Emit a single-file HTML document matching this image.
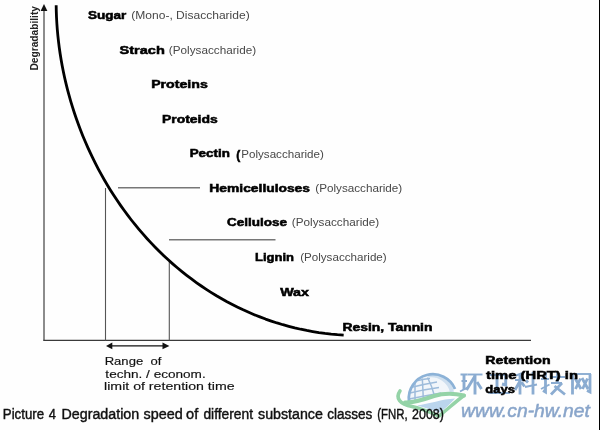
<!DOCTYPE html>
<html><head><meta charset="utf-8"><style>
html,body{margin:0;padding:0;background:#fff;}
body{width:600px;height:430px;overflow:hidden;position:relative;}
svg{position:absolute;left:0;top:0;}
text{font-family:"Liberation Sans", sans-serif;}
</style></head><body>
<svg width="600" height="430" viewBox="0 0 600 430">
<rect width="600" height="430" fill="#fefefe"/>
<!-- axes -->
<line x1="44" y1="10" x2="44" y2="340.5" stroke="#666" stroke-width="1.5"/>
<polygon points="44,3.9 40.6,11 47.4,11" fill="#111"/>
<line x1="43.3" y1="340.4" x2="531" y2="340.4" stroke="#3a3a3a" stroke-width="1.15"/>
<!-- helper lines -->
<line x1="105.5" y1="188" x2="105.5" y2="340.5" stroke="#555" stroke-width="1.1"/>
<line x1="169.3" y1="262" x2="169.3" y2="340.5" stroke="#555" stroke-width="1.1"/>
<line x1="118" y1="187.7" x2="200" y2="187.7" stroke="#777" stroke-width="1.5"/>
<line x1="169" y1="239.8" x2="275.5" y2="239.8" stroke="#777" stroke-width="1.5"/>
<!-- double arrow -->
<line x1="110" y1="345.8" x2="166" y2="345.8" stroke="#111" stroke-width="1.3"/>
<polygon points="106,346 112.3,342.6 112.3,349.3" fill="#111"/>
<polygon points="169.4,346 162.5,342.6 162.5,349.3" fill="#111"/>
<!-- curve -->
<path d="M56.17 5.29 L56.29 11.36 L56.52 17.43 L56.86 23.49 L57.31 29.56 L57.86 35.61 L58.52 41.67 L59.28 47.71 L60.15 53.74 L61.12 59.75 L62.19 65.76 L63.37 71.74 L64.64 77.71 L66.02 83.65 L67.50 89.58 L69.08 95.48 L70.75 101.35 L72.53 107.19 L74.40 113.01 L76.37 118.79 L78.44 124.54 L80.60 130.25 L82.85 135.92 L85.21 141.56 L87.65 147.15 L90.19 152.70 L92.82 158.20 L95.54 163.65 L98.35 169.06 L101.25 174.41 L104.25 179.72 L107.33 184.96 L110.50 190.15 L113.76 195.28 L117.10 200.35 L120.54 205.35 L124.05 210.30 L127.66 215.17 L131.34 219.98 L135.12 224.71 L138.97 229.37 L142.91 233.96 L146.93 238.47 L151.03 242.91 L155.21 247.26 L159.47 251.53 L163.81 255.72 L168.23 259.82 L172.73 263.84 L177.30 267.76 L181.96 271.59 L186.68 275.33 L191.48 278.98 L196.35 282.53 L201.29 285.98 L206.29 289.32 L211.37 292.57 L216.51 295.72 L221.72 298.75 L226.99 301.69 L232.32 304.51 L237.72 307.22 L243.17 309.82 L248.68 312.30 L254.25 314.67 L259.87 316.92 L265.55 319.06 L271.28 321.07 L277.06 322.96 L282.89 324.72 L288.77 326.35 L294.70 327.86 L300.67 329.24 L306.69 330.49 L312.75 331.60 L318.85 332.58 L325.00 333.42 L331.18 334.12 L337.40 334.68 L343.66 335.10" fill="none" stroke="#000" stroke-width="2.8" stroke-linecap="butt" stroke-linejoin="round"/>
<g transform="translate(38,70.5) rotate(-90)"><text x="0" y="0" font-size="10.5" font-weight="bold" fill="#222" textLength="64.5" lengthAdjust="spacingAndGlyphs">Degradability</text></g>
<text x="88.00" y="18.70" font-size="10.50" font-weight="bold" fill="#000" textLength="38.30" lengthAdjust="spacingAndGlyphs" stroke="#000" stroke-width="0.5">Sugar</text>
<text x="131.30" y="19.20" font-size="11.00" font-weight="normal" fill="#484848" textLength="118.40" lengthAdjust="spacingAndGlyphs" >(Mono-, Disaccharide)</text>
<text x="119.58" y="53.50" font-size="10.50" font-weight="bold" fill="#000" textLength="45.28" lengthAdjust="spacingAndGlyphs" stroke="#000" stroke-width="0.5">Strach</text>
<text x="168.84" y="53.60" font-size="11.00" font-weight="normal" fill="#484848" textLength="87.32" lengthAdjust="spacingAndGlyphs" >(Polysaccharide)</text>
<text x="151.15" y="88.00" font-size="10.50" font-weight="bold" fill="#000" textLength="56.70" lengthAdjust="spacingAndGlyphs" stroke="#000" stroke-width="0.5">Proteins</text>
<text x="161.92" y="122.70" font-size="10.50" font-weight="bold" fill="#000" textLength="55.85" lengthAdjust="spacingAndGlyphs" stroke="#000" stroke-width="0.5">Proteids</text>
<text x="189.69" y="157.20" font-size="10.50" font-weight="bold" fill="#000" textLength="40.16" lengthAdjust="spacingAndGlyphs" stroke="#000" stroke-width="0.5">Pectin</text>
<text x="236.15" y="158.60" font-size="12.00" font-weight="bold" fill="#000" textLength="4.00" lengthAdjust="spacingAndGlyphs" stroke="#000" stroke-width="0.5">(</text>
<text x="241.30" y="157.50" font-size="11.00" font-weight="normal" fill="#484848" textLength="82.55" lengthAdjust="spacingAndGlyphs" >Polysaccharide)</text>
<text x="209.38" y="191.80" font-size="10.50" font-weight="bold" fill="#000" textLength="100.62" lengthAdjust="spacingAndGlyphs" stroke="#000" stroke-width="0.5">Hemicelluloses</text>
<text x="315.30" y="191.80" font-size="11.00" font-weight="normal" fill="#484848" textLength="86.94" lengthAdjust="spacingAndGlyphs" >(Polysaccharide)</text>
<text x="227.00" y="225.80" font-size="10.50" font-weight="bold" fill="#000" textLength="60.00" lengthAdjust="spacingAndGlyphs" stroke="#000" stroke-width="0.5">Cellulose</text>
<text x="291.84" y="226.20" font-size="11.00" font-weight="normal" fill="#484848" textLength="87.40" lengthAdjust="spacingAndGlyphs" >(Polysaccharide)</text>
<text x="255.00" y="260.50" font-size="10.50" font-weight="bold" fill="#000" textLength="39.00" lengthAdjust="spacingAndGlyphs" stroke="#000" stroke-width="0.5">Lignin</text>
<text x="300.15" y="260.80" font-size="11.00" font-weight="normal" fill="#484848" textLength="86.55" lengthAdjust="spacingAndGlyphs" >(Polysaccharide)</text>
<text x="280.16" y="295.60" font-size="10.50" font-weight="bold" fill="#000" textLength="28.84" lengthAdjust="spacingAndGlyphs" stroke="#000" stroke-width="0.5">Wax</text>
<text x="342.46" y="331.00" font-size="10.50" font-weight="bold" fill="#000" textLength="90.00" lengthAdjust="spacingAndGlyphs" stroke="#000" stroke-width="0.5">Resin, Tannin</text>
<text x="485.38" y="364.20" font-size="10.50" font-weight="bold" fill="#000" textLength="65.16" lengthAdjust="spacingAndGlyphs" stroke="#000" stroke-width="0.5">Retention</text>
<text x="486.08" y="379.20" font-size="10.50" font-weight="bold" fill="#000" textLength="91.92" lengthAdjust="spacingAndGlyphs" stroke="#000" stroke-width="0.5">time (HRT) in</text>
<text x="485.38" y="392.50" font-size="10.50" font-weight="bold" fill="#000" textLength="29.62" lengthAdjust="spacingAndGlyphs" stroke="#000" stroke-width="0.5">days</text>
<text x="104.68" y="364.50" font-size="11.00" font-weight="normal" fill="#111" textLength="56.63" lengthAdjust="spacingAndGlyphs" stroke="#111" stroke-width="0.15">Range&#160; of</text>
<text x="105.38" y="377.50" font-size="11.00" font-weight="normal" fill="#111" textLength="100.32" lengthAdjust="spacingAndGlyphs" stroke="#111" stroke-width="0.15">techn. / econom.</text>
<text x="104.07" y="389.70" font-size="11.00" font-weight="normal" fill="#111" textLength="130.55" lengthAdjust="spacingAndGlyphs" stroke="#111" stroke-width="0.15">limit of retention time</text>
<text x="2.81" y="419.30" font-size="13.80" font-weight="normal" fill="#111" textLength="41.33" lengthAdjust="spacingAndGlyphs" stroke="#111" stroke-width="0.4">Picture</text>
<text x="48.81" y="419.30" font-size="13.80" font-weight="normal" fill="#111" textLength="7.19" lengthAdjust="spacingAndGlyphs" stroke="#111" stroke-width="0.4">4</text>
<text x="61.51" y="419.30" font-size="13.80" font-weight="normal" fill="#111" textLength="77.73" lengthAdjust="spacingAndGlyphs" stroke="#111" stroke-width="0.4">Degradation</text>
<text x="143.46" y="419.30" font-size="13.80" font-weight="normal" fill="#111" textLength="39.24" lengthAdjust="spacingAndGlyphs" stroke="#111" stroke-width="0.4">speed</text>
<text x="186.11" y="419.30" font-size="13.80" font-weight="normal" fill="#111" textLength="12.14" lengthAdjust="spacingAndGlyphs" stroke="#111" stroke-width="0.4">of</text>
<text x="203.44" y="419.30" font-size="13.80" font-weight="normal" fill="#111" textLength="49.56" lengthAdjust="spacingAndGlyphs" stroke="#111" stroke-width="0.4">different</text>
<text x="258.09" y="419.30" font-size="13.80" font-weight="normal" fill="#111" textLength="64.75" lengthAdjust="spacingAndGlyphs" stroke="#111" stroke-width="0.4">substance</text>
<text x="327.23" y="419.30" font-size="13.80" font-weight="normal" fill="#111" textLength="45.12" lengthAdjust="spacingAndGlyphs" stroke="#111" stroke-width="0.4">classes</text>
<text x="377.21" y="419.30" font-size="13.80" font-weight="normal" fill="#111" textLength="30.35" lengthAdjust="spacingAndGlyphs" stroke="#111" stroke-width="0.4">(FNR,</text>
<text x="412.09" y="419.30" font-size="13.80" font-weight="normal" fill="#111" textLength="31.82" lengthAdjust="spacingAndGlyphs" stroke="#111" stroke-width="0.4">2008)</text>
<g style="mix-blend-mode:multiply"><g id="wm">
<defs>
<clipPath id="gclip"><circle cx="432" cy="397" r="23"/></clipPath>
<clipPath id="bclip"><path d="M380,360 H470 V396 C455,393.5 444,393 434,396 C424,399.5 414,403 405,402.5 L380,402 Z"/></clipPath>
</defs>
<g clip-path="url(#bclip)"><g clip-path="url(#gclip)">
<rect x="405" y="370" width="55" height="40" fill="#f3f7fb"/>
<path d="M428,375.5 A21.5,21.5 0 0 1 452,392" fill="none" stroke="#cfe0f0" stroke-width="4"/>
<g stroke="#9fbddc" stroke-width="1.5" fill="none">
<path d="M418,380.5 Q424,379 430,378.5"/>
<path d="M413,387 Q425,384 437,382"/>
<path d="M410,393 Q424,389.5 439,387.5"/>
<path d="M409,399 Q424,396 441,393"/>
<path d="M415,383 L415,404"/>
<path d="M422.3,378.5 Q423,390 423.5,404"/>
<path d="M427.5,377.5 Q432,386 434.5,396"/>
</g>
</g>
</g>
<path d="M409,401 A24,24 0 0 1 455,389" fill="none" stroke="#8db3d8" stroke-width="2.8"/>
<path d="M417,405.5 C429,404 442,399 455,398.5 C450,404 445,409 440,412.5 C432,410 424,407.5 417,405.5 Z" fill="#bcd6ee"/>
<g fill="none" stroke="#95d4a8" stroke-linecap="round">
<path d="M400,391 C395,398 400,404.5 412,406.5 C422,408.5 432,413 439,416" stroke-width="3.6"/>
<path d="M405,402.5 C414,403 424,399.5 434,396 C444,393 455,393.5 464,395.5" stroke-width="4"/>
<path d="M439,416 C447,410 455,402 464,395.5" stroke-width="3.4"/>
</g>
</g>
<g id="cn" stroke="#8cadd2" fill="none" stroke-linecap="butt">
<!-- 环 -->
<g stroke-width="1.9">
<path d="M460.5,374.5 H467.5 M461.5,381 H467 M460,391.5 L468.5,387"/>
<path d="M467.5,374.5 H482.5"/>
</g>
<g stroke-width="2.9">
<path d="M464,374.5 V390"/>
<path d="M475,375 V394.5"/>
<path d="M475,376 L466.5,390"/>
<path d="M477,382 L481.5,389"/>
</g>
<!-- 卫 -->
<g stroke-width="1.9"><path d="M490,375 H507 M488.5,393 H510"/></g>
<g stroke-width="2.9"><path d="M497,375 V392 M505.7,375 V385 L502,384"/></g>
<!-- 科 -->
<g stroke-width="1.9"><path d="M516,375.5 L524,372.5 M515,380 H525 M525,387 L537,384.5"/></g>
<g stroke-width="2.8"><path d="M520,374 V394.5 M520,381 L515,390 M521.5,382 L524.5,386.5 M526.5,376 L528.5,378 M526,380.5 L528,382.5 M533,372 V394.5"/></g>
<!-- 技 -->
<g stroke-width="1.9"><path d="M541,379 H549 M541,389 L549.5,384.5 M550,377 H565 M551,383 H562"/></g>
<g stroke-width="2.8"><path d="M545.5,372 V392 L543,390.5 M557.5,372 V382 M562,383 L551,394.5 M554.5,386 L565,394.5"/></g>
<!-- 网 -->
<g stroke-width="1.9"><path d="M572,374 H591"/></g>
<g stroke-width="2.8"><path d="M572.5,374 V394.5 M590,374 V392 L587,390.5 M575,378 L581,389 M580.5,378.5 L575.5,389 M582,378 L588,389 M587.5,378.5 L582.5,389"/></g>
</g>
<text x="461" y="416.5" font-size="19" font-style="italic" fill="#8aa6cb" stroke="#8aa6cb" stroke-width="0.5" textLength="129" lengthAdjust="spacingAndGlyphs">www.cn-hw.net</text>
</g>
<line x1="599.5" y1="0" x2="599.5" y2="430" stroke="#000" stroke-width="1"/>
</svg>
</body></html>
